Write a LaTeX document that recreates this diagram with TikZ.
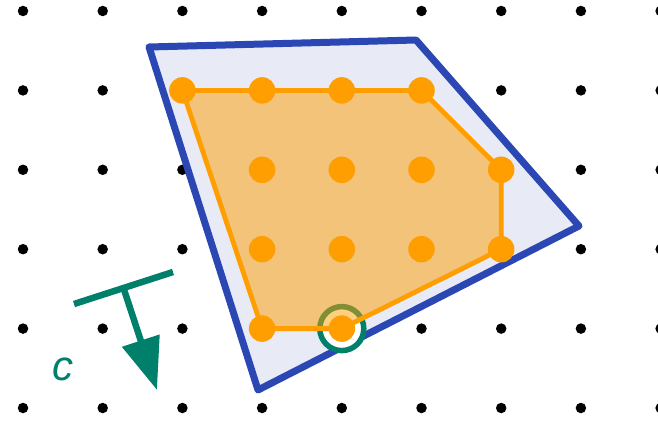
\documentclass[tikz,border=0pt]{standalone}
\usepackage{fontspec}
\setmainfont{Liberation Sans}
\usetikzlibrary{arrows.meta}
\definecolor{hullblue}{HTML}{2A47B4}
\definecolor{lav}{HTML}{E8EAF6}
\definecolor{orng}{HTML}{FF9E00}
\definecolor{tealc}{HTML}{00806A}
\tikzset{
  griddot/.style={circle,fill=black,inner sep=0pt,minimum size=10.5pt},
  odot/.style={circle,fill=orng,inner sep=0pt,minimum size=26.5pt},
  bluepoly/.style={draw=hullblue,fill=lav,line width=7pt,line join=round},
  opoly/.style={draw=orng,fill=orng,fill opacity=0.5,draw opacity=1,line width=4.8pt,line join=round},
  ring/.style={draw=tealc,fill=white,line width=5.5pt},
  cvec/.style={draw=tealc,line width=6.5pt}
}
\begin{document}
\begin{tikzpicture}[x=1pt,y=-1pt]
\useasboundingbox (0,0) rectangle (658,420);
% grid
\foreach \i in {0,...,8}{
  \foreach \j in {0,...,5}{
    \node[griddot] (g-\i-\j) at ({23+79.7*\i},{11+79.4*\j}) {};
  }
}
% blue polygon
\coordinate (b1) at (149,47);
\coordinate (b2) at (416,40);
\coordinate (b3) at (579,226);
\coordinate (b4) at (258,390);
\draw[bluepoly] (b1) -- (b2) -- (b3) -- (b4) -- cycle;
% ring
\node[ring,circle,minimum size=44pt,inner sep=0pt] (r) at (g-4-4.center) {};
% orange hull
\draw[opoly] (g-2-1.center) -- (g-5-1.center) -- (g-6-2.center) -- (g-6-3.center) -- (g-4-4.center) -- (g-3-4.center) -- cycle;
% orange points
\foreach \i in {2,...,5}{\node[odot] (o-\i-1) at (g-\i-1.center) {};}
\foreach \i in {3,...,6}{\node[odot] (o-\i-2) at (g-\i-2.center) {};}
\foreach \i in {3,...,6}{\node[odot] (o-\i-3) at (g-\i-3.center) {};}
\foreach \i in {3,4}{\node[odot] (o-\i-4) at (g-\i-4.center) {};}
% objective vector
\coordinate (a1) at (74,304);
\coordinate (a2) at (173,272);
\coordinate (am) at (123.5,288);
\coordinate (at) at (157,390);
\draw[cvec] (a1) -- (a2);
\draw[cvec,-{Triangle[length=52pt,width=38pt]}] (am) -- (at);
\node[text=tealc,font=\fontsize{42}{42}\selectfont\itshape,inner sep=0pt] (c) at (63,369) {c};
\end{tikzpicture}
\end{document}
